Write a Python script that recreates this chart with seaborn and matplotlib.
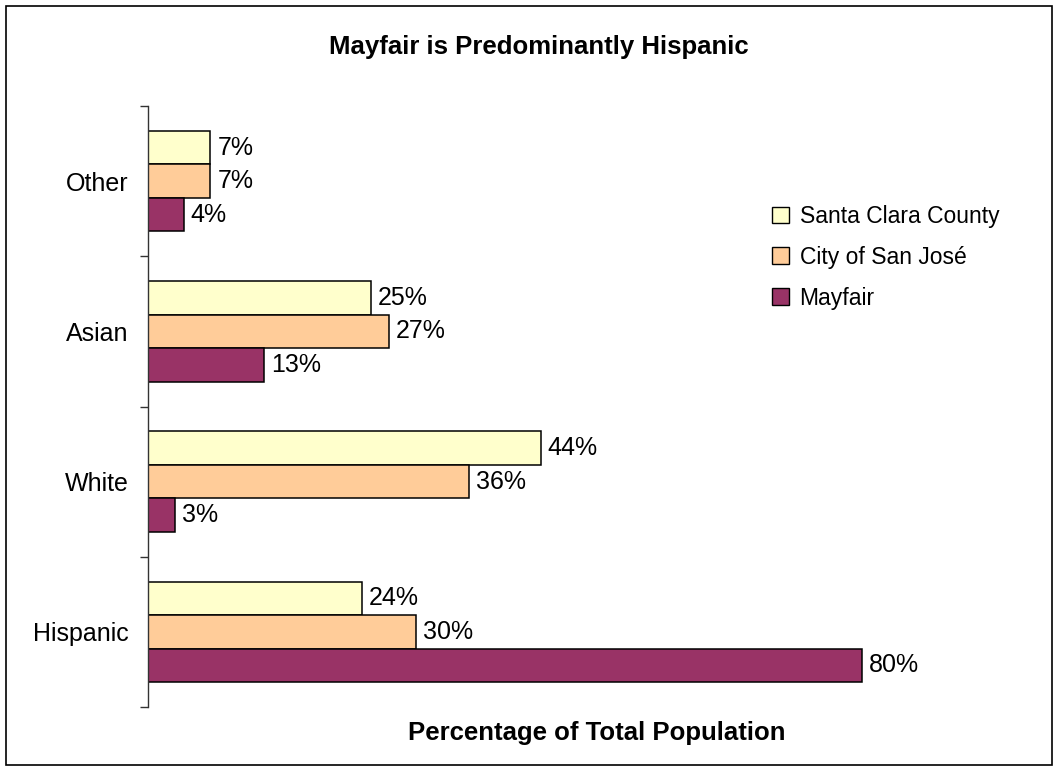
import matplotlib
matplotlib.use("Agg")
import matplotlib.pyplot as plt
from matplotlib.patches import Rectangle
import seaborn as sns
import pandas as pd

categories = ["Other", "Asian", "White", "Hispanic"]
areas = ["Santa Clara County", "City of San José", "Mayfair"]
santa_clara = [7, 25, 44, 24]
san_jose = [7, 27, 36, 30]
mayfair = [4, 13, 3, 80]
colors = ["#FFFFCC", "#FFCC99", "#993366"]

rows = []
for area, vals in zip(areas, [santa_clara, san_jose, mayfair]):
    for cat, v in zip(categories, vals):
        rows.append({"category": cat, "area": area, "value": v})
df = pd.DataFrame(rows)

sns.set_theme(style="white")
plt.rcParams["font.family"] = ["Liberation Sans", "DejaVu Sans"]
plt.rcParams["text.color"] = "black"
plt.rcParams["axes.labelcolor"] = "black"
plt.rcParams["xtick.color"] = "black"
plt.rcParams["ytick.color"] = "black"

W, H = 1058, 771
fig = plt.figure(figsize=(W / 100, H / 100), dpi=100)
ax = fig.add_axes([148 / W, 1 - 707 / H, (1040.5 - 148) / W, (707 - 106) / H])

sns.barplot(data=df, y="category", x="value", hue="area", order=categories,
            hue_order=areas, palette=colors, orient="h", width=0.67,
            saturation=1, edgecolor="black", linewidth=1.1, ax=ax)

for cont in ax.containers:
    ax.bar_label(cont, fmt="%d%%", padding=5, fontsize=18, color="black")

ax.set_xlim(0, 100)
ax.set_ylim(3.5, -0.5)
ax.set_xlabel("")
ax.set_ylabel("")
ax.set_xticks([])
ax.set_yticks([-0.5, 0.5, 1.5, 2.5, 3.5])
ax.set_yticklabels([])
ax.set_yticks(range(len(categories)), minor=True)
ax.set_yticklabels(categories, minor=True, fontsize=18, color="black")
ax.tick_params(axis="y", which="major", direction="out", length=6,
               width=1, color="#333333", left=True)
ax.tick_params(axis="y", which="minor", length=0, pad=14)
for s in ["top", "right", "bottom"]:
    ax.spines[s].set_visible(False)
ax.spines["left"].set_color("#333333")
ax.spines["left"].set_linewidth(1)

leg = ax.legend(loc="upper left", bbox_to_anchor=(772 / W, 1 - 205 / H),
                bbox_transform=fig.transFigure, frameon=False, fontsize=16.5,
                handlelength=0.75, handleheight=0.75, handletextpad=0.45,
                labelspacing=0.78, borderpad=0, borderaxespad=0)
for t in leg.get_texts():
    t.set_color("black")
for h in leg.legend_handles:
    h.set_edgecolor("black")
    h.set_linewidth(1)

fig.text(539 / W, 1 - 47 / H, "Mayfair is Predominantly Hispanic",
         ha="center", va="center", fontsize=18.5, fontweight="bold",
         color="black")
fig.text(597 / W, 1 - 733 / H, "Percentage of Total Population",
         ha="center", va="center", fontsize=18.5, fontweight="bold",
         color="black")

fig.patches.append(Rectangle((6 / W, 6 / H), 1 - 12 / W, 1 - 12 / H,
                             transform=fig.transFigure, fill=False,
                             edgecolor="black", linewidth=1.2))

fig.savefig("out.png", dpi=100)
